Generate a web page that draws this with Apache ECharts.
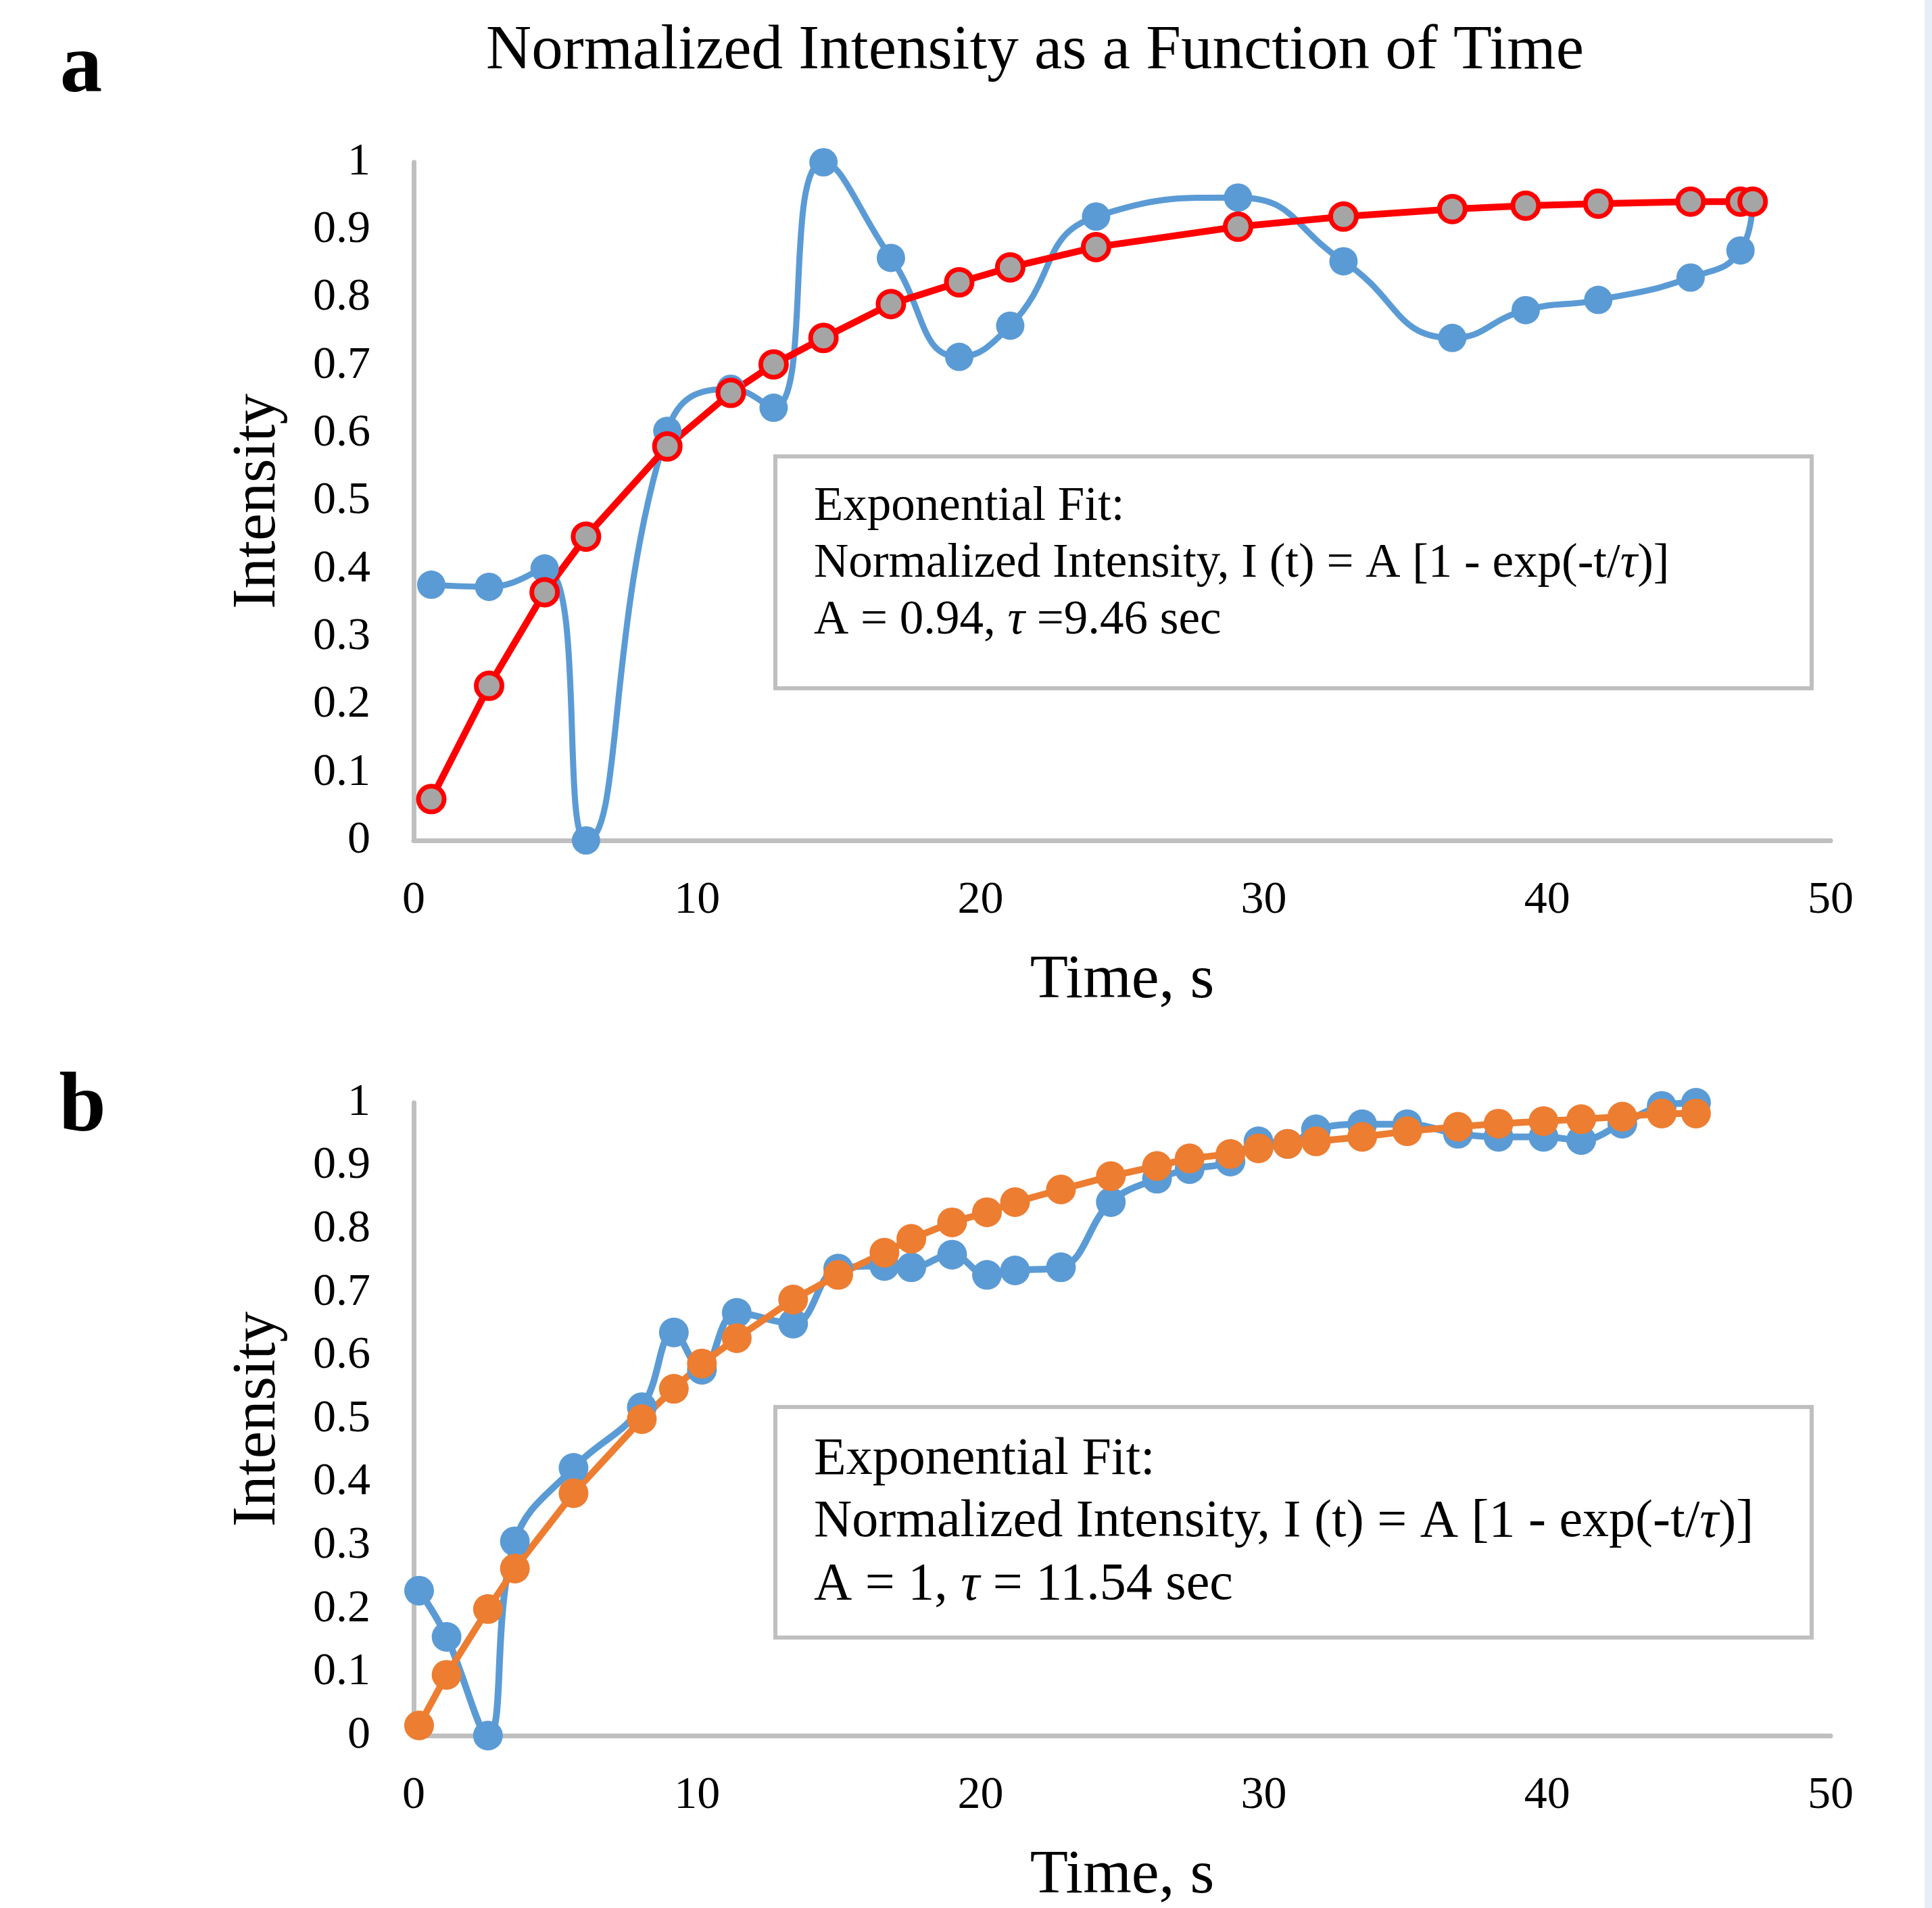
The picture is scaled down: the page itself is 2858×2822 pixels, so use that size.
<!DOCTYPE html>
<html>
<head>
<meta charset="utf-8">
<script src="https://cdn.jsdelivr.net/npm/echarts@6/dist/echarts.min.js"></script>
<style>
  html, body { margin: 0; padding: 0; background: #fff; }
  #chart { width: 2858px; height: 2822px; }
</style>
</head>
<body>
<div id="chart"></div>
<script>
// panel a: time points and the two series
var tA = [0.62, 2.66, 4.62, 6.08, 8.95, 11.19, 12.70, 14.46, 16.84, 19.25, 21.05, 24.08, 29.09, 32.81, 36.65, 39.24, 41.8, 45.06, 46.82, 47.25];
var measuredA = [0.377, 0.374, 0.401, 0.0, 0.604, 0.666, 0.638, 1.0, 0.859, 0.713, 0.759, 0.920, 0.948, 0.854, 0.741, 0.782, 0.797, 0.830, 0.870, 0.942];
var fitA = [0.061, 0.228, 0.366, 0.448, 0.581, 0.660, 0.702, 0.741, 0.791, 0.823, 0.845, 0.875, 0.905, 0.920, 0.931, 0.936, 0.939, 0.942, 0.942, 0.942];

// panel b
var tB = [0.19, 1.16, 2.62, 3.57, 5.64, 8.05, 9.18, 10.17, 11.4, 13.39, 14.98, 16.61, 17.56, 19.0, 20.23, 21.22, 22.84, 24.6, 26.23, 27.38, 28.82, 29.81, 30.84, 31.84, 33.47, 35.06, 36.85, 38.28, 39.87, 41.2, 42.65, 44.04, 45.25];
var measuredB = [0.229, 0.156, 0.0, 0.307, 0.423, 0.519, 0.637, 0.578, 0.668, 0.651, 0.738, 0.742, 0.740, 0.760, 0.728, 0.735, 0.740, 0.843, 0.880, 0.895, 0.907, 0.939, 0.935, 0.958, 0.966, 0.966, 0.951, 0.946, 0.946, 0.941, 0.967, 0.995, 1.0];
var fitB = [0.016, 0.096, 0.200, 0.264, 0.383, 0.500, 0.548, 0.588, 0.628, 0.689, 0.728, 0.763, 0.785, 0.811, 0.827, 0.843, 0.863, 0.884, 0.900, 0.912, 0.919, 0.928, 0.935, 0.939, 0.946, 0.955, 0.962, 0.967, 0.971, 0.974, 0.978, 0.983, 0.983];

var xTicks = { min: 0, max: 50, interval: 10 };
var yTicks = { min: 0, max: 1, interval: 0.1 };

var fitTextA = ['Exponential Fit:', 'Normalized Intensity, I (t) = A [1 - exp(-t/{it|\u03c4})]', 'A = 0.94, {it|\u03c4} =9.46 sec'];
var fitTextB = ['Exponential Fit:', 'Normalized Intensity, I (t) = A [1 - exp(-t/{it|\u03c4})]', 'A = 1, {it|\u03c4} = 11.54 sec'];

var serif = 'Liberation Serif';

function pairs(xs, ys) {
  return xs.map(function (x, i) { return [x, ys[i]]; });
}

function xAxis(idx) {
  return {
    type: 'value', gridIndex: idx,
    min: xTicks.min, max: xTicks.max, interval: xTicks.interval,
    name: 'Time, s', nameLocation: 'middle', nameGap: 162,
    nameTextStyle: { fontFamily: serif, fontSize: 92, color: '#000' },
    axisLine: { show: true, lineStyle: { color: '#bfbfbf', width: 7 } },
    axisTick: { show: false },
    splitLine: { show: false },
    axisLabel: { fontFamily: serif, fontSize: 68, color: '#000', margin: 55 }
  };
}

function yAxis(idx) {
  return {
    type: 'value', gridIndex: idx,
    min: yTicks.min, max: yTicks.max, interval: yTicks.interval,
    name: 'Intensity', nameLocation: 'middle', nameGap: 184,
    nameTextStyle: { fontFamily: serif, fontSize: 91, color: '#000' },
    axisLine: { show: true, lineStyle: { color: '#bfbfbf', width: 7 } },
    axisTick: { show: false },
    splitLine: { show: false },
    axisLabel: { fontFamily: serif, fontSize: 68, color: '#000', margin: 64 }
  };
}

function fitBox(x, y, w, h, lines, left, centers, size) {
  var items = [{
    type: 'rect',
    shape: { x: x, y: y, width: w, height: h },
    style: { fill: '#fff', stroke: '#bfbfbf', lineWidth: 6 },
    z: 10
  }];
  lines.forEach(function (line, i) {
    items.push({
      type: 'text', x: left, y: centers[i], z: 11,
      style: {
        text: line, fill: '#000', fontFamily: serif, fontSize: size,
        align: 'left', verticalAlign: 'middle',
        rich: { it: { fontFamily: serif, fontSize: size, fontStyle: 'italic', fill: '#000' } }
      }
    });
  });
  return items;
}

var chartDom = document.getElementById('chart');
var myChart = echarts.init(chartDom);

var option = {
  animation: false,
  backgroundColor: '#fff',
  grid: [
    { left: 612, top: 240, width: 2096, height: 1003 },
    { left: 612, top: 1631, width: 2096, height: 939 }
  ],
  xAxis: [xAxis(0), xAxis(1)],
  yAxis: [yAxis(0), yAxis(1)],
  series: [
    {
      type: 'line', xAxisIndex: 0, yAxisIndex: 0,
      data: pairs(tA, measuredA), smooth: 0.5, clip: false,
      symbol: 'circle', symbolSize: 42,
      lineStyle: { color: '#5b9bd5', width: 9 },
      itemStyle: { color: '#5b9bd5' }
    },
    {
      type: 'line', xAxisIndex: 0, yAxisIndex: 0,
      data: pairs(tA, fitA), clip: false,
      symbol: 'circle', symbolSize: 38,
      lineStyle: { color: '#ff0000', width: 10 },
      itemStyle: { color: '#a5a5a5', borderColor: '#ff0000', borderWidth: 7 }
    },
    {
      type: 'line', xAxisIndex: 1, yAxisIndex: 1,
      data: pairs(tB, measuredB), smooth: 0.4, clip: false,
      symbol: 'circle', symbolSize: 44,
      lineStyle: { color: '#5b9bd5', width: 10 },
      itemStyle: { color: '#5b9bd5' }
    },
    {
      type: 'line', xAxisIndex: 1, yAxisIndex: 1,
      data: pairs(tB, fitB), clip: false,
      symbol: 'circle', symbolSize: 44,
      lineStyle: { color: '#ed7d31', width: 10 },
      itemStyle: { color: '#ed7d31' }
    }
  ],
  graphic: [
    {
      type: 'text', x: 1531, y: 77,
      style: { text: 'Normalized Intensity as a Function of Time', fill: '#000', fontFamily: serif, fontSize: 93, align: 'center', verticalAlign: 'middle' }
    },
    {
      type: 'text', x: 120, y: 103,
      style: { text: 'a', fill: '#000', fontFamily: serif, fontWeight: 'bold', fontSize: 125, align: 'center', verticalAlign: 'middle' }
    },
    {
      type: 'text', x: 122, y: 1640,
      style: { text: 'b', fill: '#000', fontFamily: serif, fontWeight: 'bold', fontSize: 125, align: 'center', verticalAlign: 'middle' }
    },
    {
      type: 'rect', shape: { x: 2847, y: 0, width: 11, height: 2822 },
      style: { fill: '#e8eef6' }
    }
  ].concat(
    fitBox(1147, 675, 1533, 343, fitTextA, 1204, [750, 834, 918], 71),
    fitBox(1147, 2081, 1533, 341, fitTextB, 1204, [2160, 2252, 2345], 78)
  )
};

option && myChart.setOption(option);
</script>
</body>
</html>
